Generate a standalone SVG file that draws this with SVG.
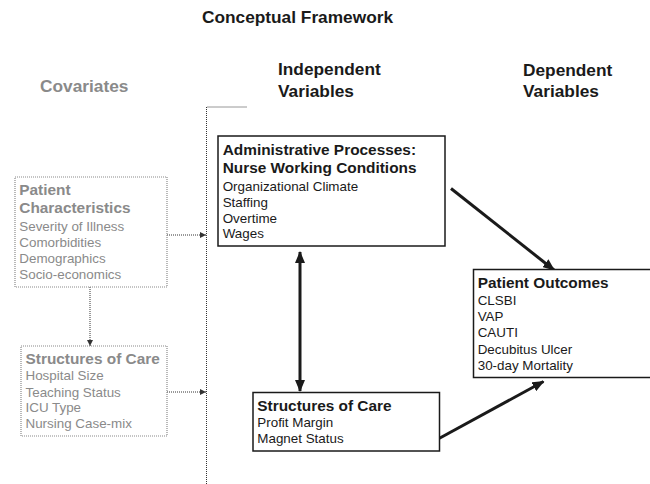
<svg xmlns="http://www.w3.org/2000/svg" width="650" height="484" viewBox="0 0 650 484">
<defs>
<style>
text { font-family: "Liberation Sans", Arial, sans-serif; }
.title { font-size: 17.3px; font-weight: bold; fill: #1a1a1a; }
.hdr { font-size: 17.3px; font-weight: bold; fill: #1a1a1a; }
.hdrg { font-size: 17.3px; font-weight: bold; fill: #8a8a8a; }
.b { font-size: 15.4px; font-weight: bold; fill: #1a1a1a; }
.r { font-size: 13.4px; fill: #1a1a1a; }
.bg { font-size: 15.4px; font-weight: bold; fill: #8a8a8a; }
.rg { font-size: 13.4px; fill: #8a8a8a; }
.box { fill: #fff; stroke: #1a1a1a; stroke-width: 1.5; }
.gbox { fill: #fff; stroke: #8a8a8a; stroke-width: 1.2; stroke-dasharray: 1 1; }
.dot { fill: none; stroke: #333; stroke-width: 1; stroke-dasharray: 1 1; }
.thick { fill: none; stroke: #1a1a1a; stroke-width: 3; }
</style>
<marker id="big" markerUnits="userSpaceOnUse" viewBox="0 0 12 10" markerWidth="12" markerHeight="10" refX="11" refY="5" orient="auto-start-reverse">
<path d="M0,0 L12,5 L0,10 Z" fill="#1a1a1a"/>
</marker>
<marker id="small" markerUnits="userSpaceOnUse" viewBox="0 0 6 6" markerWidth="6" markerHeight="6" refX="6" refY="3" orient="auto">
<path d="M0,0 L6,3 L0,6 Z" fill="#333"/>
</marker>
</defs>
<rect width="650" height="484" fill="#fff"/>

<text class="title" x="297.5" y="22.5" text-anchor="middle">Conceptual Framework</text>
<text class="hdrg" x="40" y="92">Covariates</text>
<text class="hdr" x="278" y="75">Independent</text>
<text class="hdr" x="278" y="96.5">Variables</text>
<text class="hdr" x="523" y="76">Dependent</text>
<text class="hdr" x="523" y="96.5">Variables</text>

<g id="connectors">
<path class="dot" d="M206.5,484 L206.5,107 L247,107"/>
<line class="dot" x1="167" y1="235" x2="206" y2="235" marker-end="url(#small)"/>
<line class="dot" x1="167" y1="392" x2="206" y2="392" marker-end="url(#small)"/>
<line class="dot" x1="90" y1="287" x2="90" y2="346" marker-end="url(#small)"/>
<line class="thick" x1="451" y1="188.5" x2="554" y2="270" marker-end="url(#big)"/>
<line class="thick" x1="300" y1="252" x2="300" y2="391" marker-start="url(#big)" marker-end="url(#big)"/>
<line class="thick" x1="439" y1="438.5" x2="543.5" y2="381.5" marker-end="url(#big)"/>
</g>

<g id="patient-characteristics">
<rect class="gbox" x="15" y="177" width="152" height="110"/>
<text class="bg" x="19.3" y="195">Patient</text>
<text class="bg" x="19.3" y="213">Characteristics</text>
<text class="rg" x="19.3" y="230.5">Severity of Illness</text>
<text class="rg" x="19.3" y="246.5">Comorbidities</text>
<text class="rg" x="19.3" y="263">Demographics</text>
<text class="rg" x="19.3" y="279">Socio-economics</text>
</g>

<g id="covariate-structures">
<rect class="gbox" x="21" y="346" width="146" height="90"/>
<text class="bg" x="25.5" y="364">Structures of Care</text>
<text class="rg" x="25.5" y="380">Hospital Size</text>
<text class="rg" x="25.5" y="396.5">Teaching Status</text>
<text class="rg" x="25.5" y="412">ICU Type</text>
<text class="rg" x="25.5" y="428">Nursing Case-mix</text>
</g>

<g id="administrative-processes">
<rect class="box" x="218" y="136" width="227" height="110"/>
<text class="b" x="222.7" y="155">Administrative Processes:</text>
<text class="b" x="222.7" y="173.3">Nurse Working Conditions</text>
<text class="r" x="222.7" y="190.7">Organizational Climate</text>
<text class="r" x="222.7" y="206.7">Staffing</text>
<text class="r" x="222.7" y="222.7">Overtime</text>
<text class="r" x="222.7" y="238.3">Wages</text>
</g>

<g id="patient-outcomes">
<rect class="box" x="473.5" y="269.5" width="180" height="108"/>
<text class="b" x="477.7" y="288.3">Patient Outcomes</text>
<text class="r" x="477.7" y="305">CLSBI</text>
<text class="r" x="477.7" y="321">VAP</text>
<text class="r" x="477.7" y="337.3">CAUTI</text>
<text class="r" x="477.7" y="354">Decubitus Ulcer</text>
<text class="r" x="477.7" y="369.5">30-day Mortality</text>
</g>

<g id="structures-of-care">
<rect class="box" x="253" y="392.5" width="186.5" height="58.5"/>
<text class="b" x="257.3" y="410.7">Structures of Care</text>
<text class="r" x="257.3" y="426.7">Profit Margin</text>
<text class="r" x="257.3" y="442.7">Magnet Status</text>
</g>
</svg>
